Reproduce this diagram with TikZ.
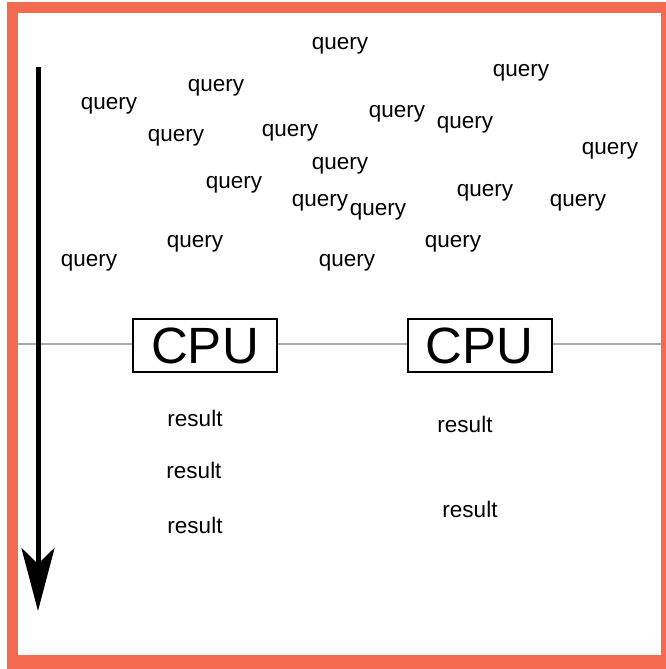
\documentclass[tikz,border=0pt]{standalone}
\usepackage{fontspec}
\setmainfont{Liberation Sans}
\usetikzlibrary{arrows.meta}
\definecolor{frameorange}{HTML}{F26B50}
\definecolor{wiregray}{HTML}{AAAAAA}
\tikzset{
  q/.style={anchor=base, inner sep=0pt, font=\fontsize{22.5}{22.5}\selectfont},
  res/.style={anchor=base, inner sep=0pt, font=\fontsize{22.5}{22.5}\selectfont},
  cpubox/.style={draw=black, line width=2pt, fill=white, minimum width=144pt,
    minimum height=53pt, inner sep=0pt, font=\fontsize{51}{51}\selectfont},
  wire/.style={draw=wiregray, line width=2pt},
  timeline/.style={line width=5pt, -{Stealth[length=63pt, width=33pt, inset=16pt]}}
}
\begin{document}
\begin{tikzpicture}[x=1pt, y=-1pt]
  \useasboundingbox (0,0) rectangle (666,669);
  % frame
  \fill[frameorange] (7,2) rectangle (666,669);
  \fill[white] (18,13) rectangle (661,655);

  % processor row
  \coordinate (wl) at (18,344);
  \coordinate (wr) at (661,344);
  \node[cpubox] (cpu1) at (205,345.5) {CPU};
  \node[cpubox] (cpu2) at (479.5,345.5) {CPU};
  \draw[wire] (wl) -- (cpu1.west |- wl);
  \draw[wire] (cpu1.east |- wl) -- (cpu2.west |- wl);
  \draw[wire] (cpu2.east |- wl) -- (wr);

  % time axis
  \coordinate (t0) at (38,67);
  \coordinate (t1) at (38,611);
  \draw[timeline] (t0) -- (t1);

  % incoming queries
  \node[q] (q1)  at (340,49) {query};
  \node[q] (q2)  at (521,76) {query};
  \node[q] (q3)  at (109,109) {query};
  \node[q] (q4)  at (216,91) {query};
  \node[q] (q5)  at (397,117) {query};
  \node[q] (q6)  at (465,128) {query};
  \node[q] (q7)  at (176,141) {query};
  \node[q] (q8)  at (290,136) {query};
  \node[q] (q9)  at (610,154) {query};
  \node[q] (q10) at (340,169) {query};
  \node[q] (q11) at (234,188) {query};
  \node[q] (q12) at (485,196) {query};
  \node[q] (q13) at (320,206) {query};
  \node[q] (q14) at (378,215) {query};
  \node[q] (q15) at (578,206) {query};
  \node[q] (q16) at (195,247) {query};
  \node[q] (q17) at (453,247) {query};
  \node[q] (q18) at (89,266) {query};
  \node[q] (q19) at (347,266) {query};

  % results
  \node[res] (r1) at (195,426) {result};
  \node[res] (r2) at (194,478) {result};
  \node[res] (r3) at (195,533) {result};
  \node[res] (r4) at (465,432) {result};
  \node[res] (r5) at (470,517) {result};
\end{tikzpicture}
\end{document}
